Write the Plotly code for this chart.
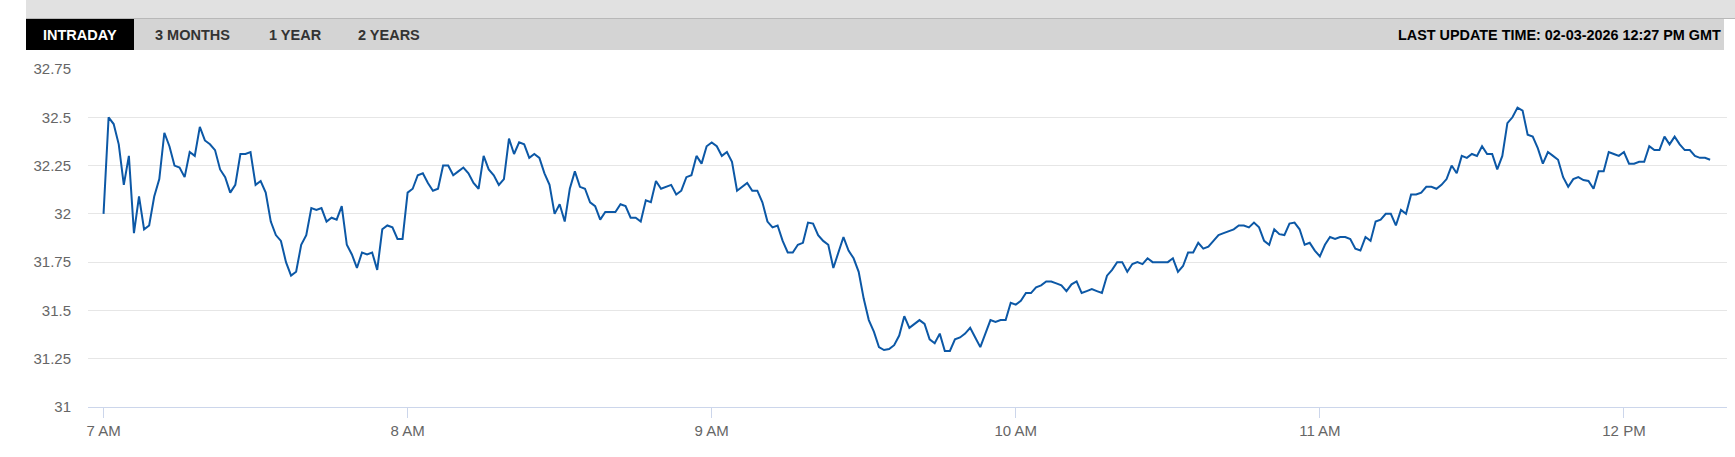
import plotly.graph_objects as go
import pandas as pd

# intraday prices, one per minute from 7:00 AM
start_time = "2026-02-03 07:00"
prices = [
    32.00, 32.50, 32.465, 32.36, 32.15, 32.30, 31.90, 32.09, 31.92, 31.94,
    32.09, 32.18, 32.42, 32.35, 32.25, 32.24, 32.19, 32.32, 32.30, 32.45,
    32.38, 32.36, 32.33, 32.23, 32.19, 32.11, 32.15, 32.31, 32.31, 32.32,
    32.15, 32.17, 32.11, 31.96, 31.89, 31.86, 31.75, 31.68, 31.70, 31.84,
    31.89, 32.03, 32.02, 32.03, 31.96, 31.98, 31.97, 32.04, 31.84, 31.79,
    31.72, 31.80, 31.79, 31.80, 31.71, 31.92, 31.94, 31.93, 31.87, 31.87,
    32.11, 32.13, 32.20, 32.21, 32.16, 32.12, 32.13, 32.25, 32.25, 32.20,
    32.22, 32.24, 32.21, 32.16, 32.13, 32.30, 32.23, 32.20, 32.15, 32.18,
    32.39, 32.31, 32.37, 32.36, 32.29, 32.31, 32.29, 32.21, 32.15, 32.00,
    32.05, 31.96, 32.13, 32.22, 32.14, 32.13, 32.06, 32.04, 31.97, 32.01,
    32.01, 32.01, 32.05, 32.04, 31.98, 31.98, 31.96, 32.07, 32.06, 32.17,
    32.13, 32.14, 32.15, 32.10, 32.12, 32.19, 32.20, 32.30, 32.26, 32.35,
    32.37, 32.35, 32.30, 32.32, 32.27, 32.12, 32.14, 32.16, 32.12, 32.12,
    32.06, 31.96, 31.93, 31.94, 31.86, 31.80, 31.80, 31.84, 31.85, 31.955,
    31.95, 31.89, 31.86, 31.84, 31.72, 31.80, 31.88, 31.81, 31.77, 31.70,
    31.56, 31.45, 31.39, 31.31, 31.295, 31.30, 31.32, 31.37, 31.47, 31.41,
    31.43, 31.45, 31.43, 31.35, 31.33, 31.38, 31.29, 31.29, 31.35, 31.36,
    31.38, 31.41, 31.36, 31.31, 31.38, 31.45, 31.44, 31.45, 31.45, 31.54,
    31.53, 31.55, 31.59, 31.59, 31.62, 31.63, 31.65, 31.65, 31.64, 31.63,
    31.60, 31.635, 31.65, 31.59, 31.60, 31.61, 31.60, 31.59, 31.68, 31.71,
    31.75, 31.75, 31.70, 31.74, 31.75, 31.74, 31.77, 31.75, 31.75, 31.75,
    31.75, 31.77, 31.70, 31.73, 31.80, 31.80, 31.85, 31.82, 31.83, 31.86,
    31.89, 31.90, 31.91, 31.92, 31.94, 31.94, 31.93, 31.955, 31.93, 31.86,
    31.84, 31.92, 31.895, 31.89, 31.95, 31.955, 31.92, 31.84, 31.85, 31.81,
    31.78, 31.84, 31.88, 31.87, 31.88, 31.88, 31.87, 31.82, 31.81, 31.88,
    31.86, 31.96, 31.97, 32.00, 32.00, 31.94, 32.02, 32.00, 32.10, 32.10,
    32.11, 32.14, 32.14, 32.13, 32.15, 32.18, 32.25, 32.21, 32.30, 32.29,
    32.31, 32.30, 32.35, 32.31, 32.31, 32.23, 32.30, 32.47, 32.50, 32.55,
    32.535, 32.41, 32.40, 32.34, 32.26, 32.32, 32.30, 32.28, 32.19, 32.14,
    32.18, 32.19, 32.175, 32.17, 32.13, 32.22, 32.22, 32.32, 32.31, 32.30,
    32.32, 32.26, 32.26, 32.27, 32.27, 32.35, 32.33, 32.33, 32.40, 32.36,
    32.40, 32.36, 32.33, 32.33, 32.30, 32.29, 32.29, 32.28,
]
times = pd.date_range(start_time, periods=len(prices), freq="min")

y_ticks = [31, 31.25, 31.5, 31.75, 32, 32.25, 32.5, 32.75]
y_tick_text = ["31", "31.25", "31.5", "31.75", "32", "32.25", "32.5", "32.75"]
x_ticks = ["2026-02-03 07:00", "2026-02-03 08:00", "2026-02-03 09:00",
           "2026-02-03 10:00", "2026-02-03 11:00", "2026-02-03 12:00"]
x_tick_text = ["7 AM", "8 AM", "9 AM", "10 AM", "11 AM", "12 PM"]
tabs = ["INTRADAY", "3 MONTHS", "1 YEAR", "2 YEARS"]
last_update = "LAST UPDATE TIME: 02-03-2026 12:27 PM GMT"

W, H = 1735, 457
L, R, T, B = 88, 1727, 69, 407


def px(x):
    return (x - L) / (R - L)


def py(y):
    return (B - y) / (B - T)


fig = go.Figure()
fig.add_trace(go.Scatter(
    x=times, y=prices, mode="lines",
    line=dict(color="#0c58a6", width=2),
    hoverinfo="x+y"))

shapes = [
    # top grey band and tab strip
    dict(type="rect", xref="paper", yref="paper", x0=px(26), x1=px(1735), y0=py(0), y1=py(18),
         fillcolor="#e1e1e1", line=dict(width=0), layer="below"),
    dict(type="line", xref="paper", yref="paper", x0=px(26), x1=px(1735), y0=py(18.5), y1=py(18.5),
         line=dict(color="#b8b8b8", width=1)),
    dict(type="rect", xref="paper", yref="paper", x0=px(26), x1=px(1724), y0=py(19), y1=py(50),
         fillcolor="#d4d4d4", line=dict(width=0), layer="below"),
    dict(type="rect", xref="paper", yref="paper", x0=px(26), x1=px(134), y0=py(19), y1=py(50),
         fillcolor="#000000", line=dict(width=0)),
]

annotations = []
tab_centers = [80, 192, 295, 389]
for name, cx in zip(tabs, tab_centers):
    annotations.append(dict(
        text=name, xref="paper", yref="paper", x=px(cx), y=py(34.5),
        xanchor="center", yanchor="middle", showarrow=False,
        font=dict(family="Liberation Sans", size=14.5,
                  color="#ffffff" if name == "INTRADAY" else "#333333", weight="bold")))
annotations.append(dict(
    text=last_update, xref="paper", yref="paper", x=px(1723), y=py(34.5),
    xanchor="right", yanchor="middle", showarrow=False,
    font=dict(family="Liberation Sans", size=14.4, color="#000000", weight="bold")))

fig.update_layout(
    width=W, height=H,
    margin=dict(l=L, r=W - R, t=T, b=H - B, pad=0),
    paper_bgcolor="#ffffff", plot_bgcolor="#ffffff",
    showlegend=False,
    shapes=shapes,
    annotations=annotations,
    font=dict(family="Liberation Sans", size=15, color="#666666"),
    xaxis=dict(
        range=["2026-02-03 06:56:56", "2026-02-03 12:20:20"],
        tickvals=x_ticks, ticktext=x_tick_text,
        showgrid=False, zeroline=False,
        showline=True, linecolor="#ccd6eb", linewidth=1,
        ticks="outside", ticklen=10, tickcolor="#ccd6eb", tickwidth=1,
        tickfont=dict(size=15, color="#666666"),
    ),
    yaxis=dict(
        range=[31, 32.75],
        tickvals=y_ticks, ticktext=y_tick_text,
        showgrid=True, gridcolor="#e6e6e6", gridwidth=1,
        zeroline=False, showline=False,
        ticks="", ticklabelstandoff=16,
        tickfont=dict(size=15, color="#666666"),
    ),
)

# drop the default body margin so the chart sits at the page's top-left corner
fig.write_html("out.html", config={"displayModeBar": False},
               post_script="document.body.style.margin='0';")
